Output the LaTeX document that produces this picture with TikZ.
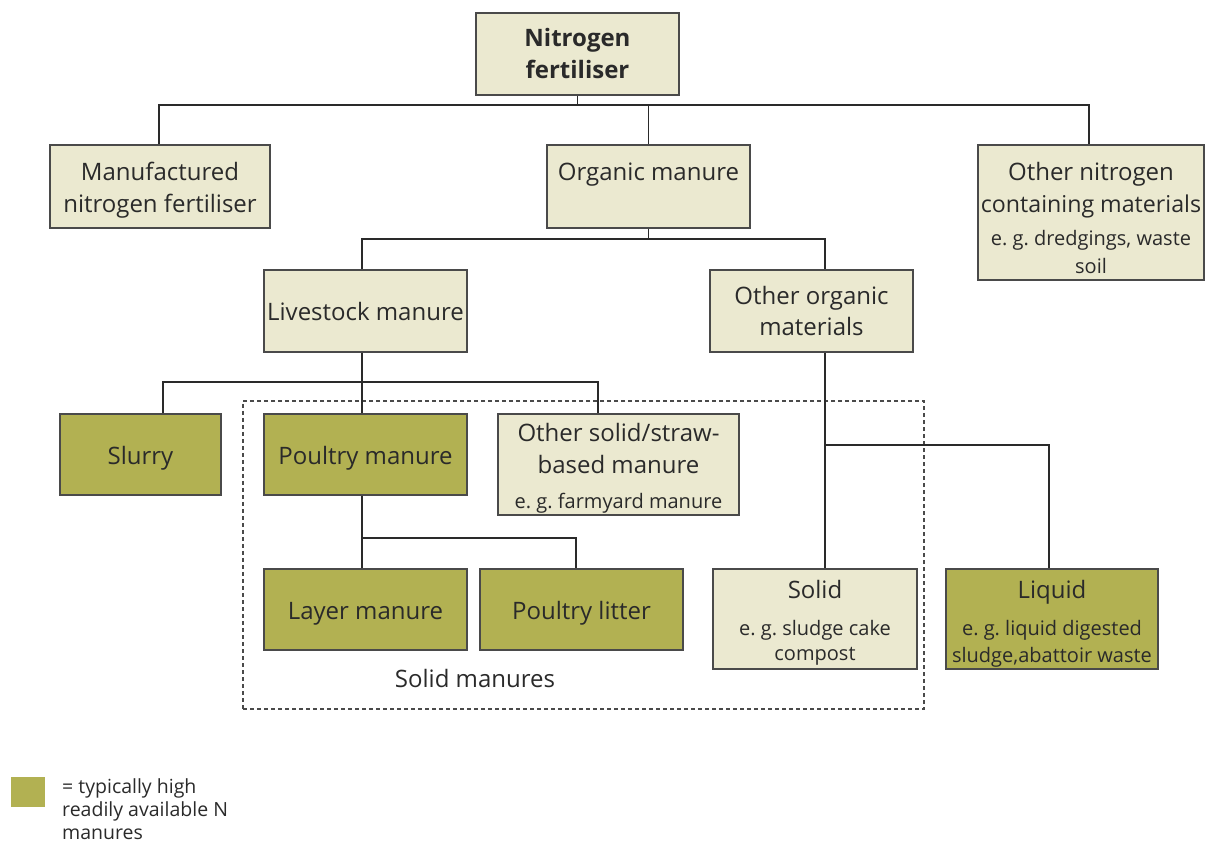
\documentclass[tikz,border=0pt]{standalone}
\usepackage{fontspec}
\setmainfont{Open Sans}
\frenchspacing
\newcommand{\mainf}{\fontsize{24}{32}\selectfont}
\newcommand{\subf}{\fontsize{20}{27}\selectfont}
\definecolor{beige}{HTML}{EBE9D0}
\definecolor{olive}{HTML}{B2B152}
\definecolor{bord}{HTML}{4A4A4A}
\definecolor{ink}{HTML}{2A2A2A}
\tikzset{
  box/.style={draw=bord, line width=1.4pt, fill=beige, inner sep=0pt, align=center, text=ink, font=\mainf},
  obox/.style={box, fill=olive},
  mt/.style={anchor=base, inner sep=0pt, text=ink, font=\mainf},
  st/.style={anchor=base, inner sep=0pt, text=ink, font=\subf},
  conn/.style={draw=ink, line width=1.2pt},
}
\begin{document}
\begin{tikzpicture}[x=1pt,y=-1pt]
\useasboundingbox (0,0) rectangle (1208,842);
% boxes
\node[box, minimum width=203, minimum height=82, text width=201, font=\mainf\bfseries] (nf) at (577.5,54) {Nitrogen\\fertiliser};
\node[box, minimum width=220, minimum height=83] (mf) at (160,186.5) {};
\node[box, minimum width=203, minimum height=83] (om) at (648.5,186.5) {};
\node[box, minimum width=226, minimum height=135] (on) at (1091,212.5) {};
\node[box, minimum width=203, minimum height=82] (lm) at (365.5,311) {};
\node[box, minimum width=203, minimum height=82] (oo) at (811.5,311) {};
\node[obox, minimum width=161, minimum height=81] (sl) at (140.5,454.5) {};
\node[obox, minimum width=203, minimum height=81] (pm) at (365.5,454.5) {};
\node[box, minimum width=241, minimum height=101] (os) at (618.5,464.5) {};
\node[obox, minimum width=203, minimum height=81] (la) at (365.5,609.5) {};
\node[obox, minimum width=203, minimum height=81] (pl) at (581.5,609.5) {};
\node[box, minimum width=204, minimum height=100] (so) at (815,619) {};
\node[obox, minimum width=212, minimum height=100] (li) at (1052,619) {};
% texts
\node[mt] (mf1) at (160,180.5) {Manufactured};
\node[mt] (mf2) at (160,212.5) {nitrogen fertiliser};
\node[mt] (om1) at (648.5,180.5) {Organic manure};
\node[mt] (on1) at (1091,180.5) {Other nitrogen};
\node[mt, font=\fontsize{23.2}{32}\selectfont] (on2) at (1091,212.5) {containing materials};
\node[st] (on3) at (1091,246) {e. g. dredgings, waste};
\node[st] (on4) at (1091,274) {soil};
\node[mt] (lm1) at (365.5,320.5) {Livestock manure};
\node[mt] (oo1) at (811.5,304.5) {Other organic};
\node[mt] (oo2) at (811.5,335.5) {materials};
\node[mt] (sl1) at (140.5,464.5) {Slurry};
\node[mt] (pm1) at (365.5,464.5) {Poultry manure};
\node[mt] (os1) at (618.5,441.5) {Other solid/straw-};
\node[mt] (os2) at (618.5,473.5) {based manure};
\node[st] (os3) at (618.5,508) {e. g. farmyard manure};
\node[mt] (la1) at (365.5,619.5) {Layer manure};
\node[mt] (pl1) at (581.5,619.5) {Poultry litter};
\node[mt] (so1) at (815,598.5) {Solid};
\node[st] (so2) at (815,635) {e. g. sludge cake};
\node[st] (so3) at (815,660) {compost};
\node[mt] (li1) at (1052,598.5) {Liquid};
\node[st] (li2) at (1052,635) {e. g. liquid digested};
\node[st] (li3) at (1052,662) {sludge,abattoir waste};
% dashed group
\node[draw=bord, line width=1.1pt, dash pattern=on 4pt off 3pt, minimum width=681, minimum height=308, inner sep=0pt] (grp) at (583.5,555) {};
\node[mt] (sm) at (475,687.5) {Solid manures};
% legend
\node[fill=olive, minimum width=34, minimum height=30, inner sep=0pt] (leg) at (28,792) {};
\node[st, anchor=base west, font=\fontsize{19.5}{23}\selectfont] (lg1) at (62,793) {= typically high};
\node[st, anchor=base west, font=\fontsize{19.5}{23}\selectfont] (lg2) at (62,816) {readily available N};
\node[st, anchor=base west, font=\fontsize{19.5}{23}\selectfont] (lg3) at (62,839) {manures};
% connectors
\coordinate (j1) at (577.5,105);
\draw[conn] (nf.south) -- (j1);
\draw[conn] ([xshift=-1pt]mf.north) |- (j1) -| ([xshift=-2pt]on.north);
\draw[conn] (om.north) -- (om.north |- j1);
\coordinate (j2) at (648.5,239);
\draw[conn] (om.south) -- (j2);
\draw[conn] ([xshift=-3.5pt]lm.north) |- (j2) -| ([xshift=13.5pt]oo.north);
\coordinate (j3) at (362,382);
\draw[conn] ([xshift=-3.5pt]lm.south) -- (j3);
\draw[conn] ([xshift=22.5pt]sl.north) |- (j3) -| ([xshift=-20.5pt]os.north);
\draw[conn] ([xshift=-3.5pt]pm.north) -- (j3);
\coordinate (j4) at (362,538);
\draw[conn] ([xshift=-3.5pt]pm.south) -- (j4);
\draw[conn] ([xshift=-3.5pt]la.north) -- (j4) -| ([xshift=-5.5pt]pl.north);
\coordinate (j5) at (825,445);
\draw[conn] ([xshift=13.5pt]oo.south) -- ([xshift=10pt]so.north);
\draw[conn] (j5) -| ([xshift=-3pt]li.north);
\end{tikzpicture}
\end{document}
